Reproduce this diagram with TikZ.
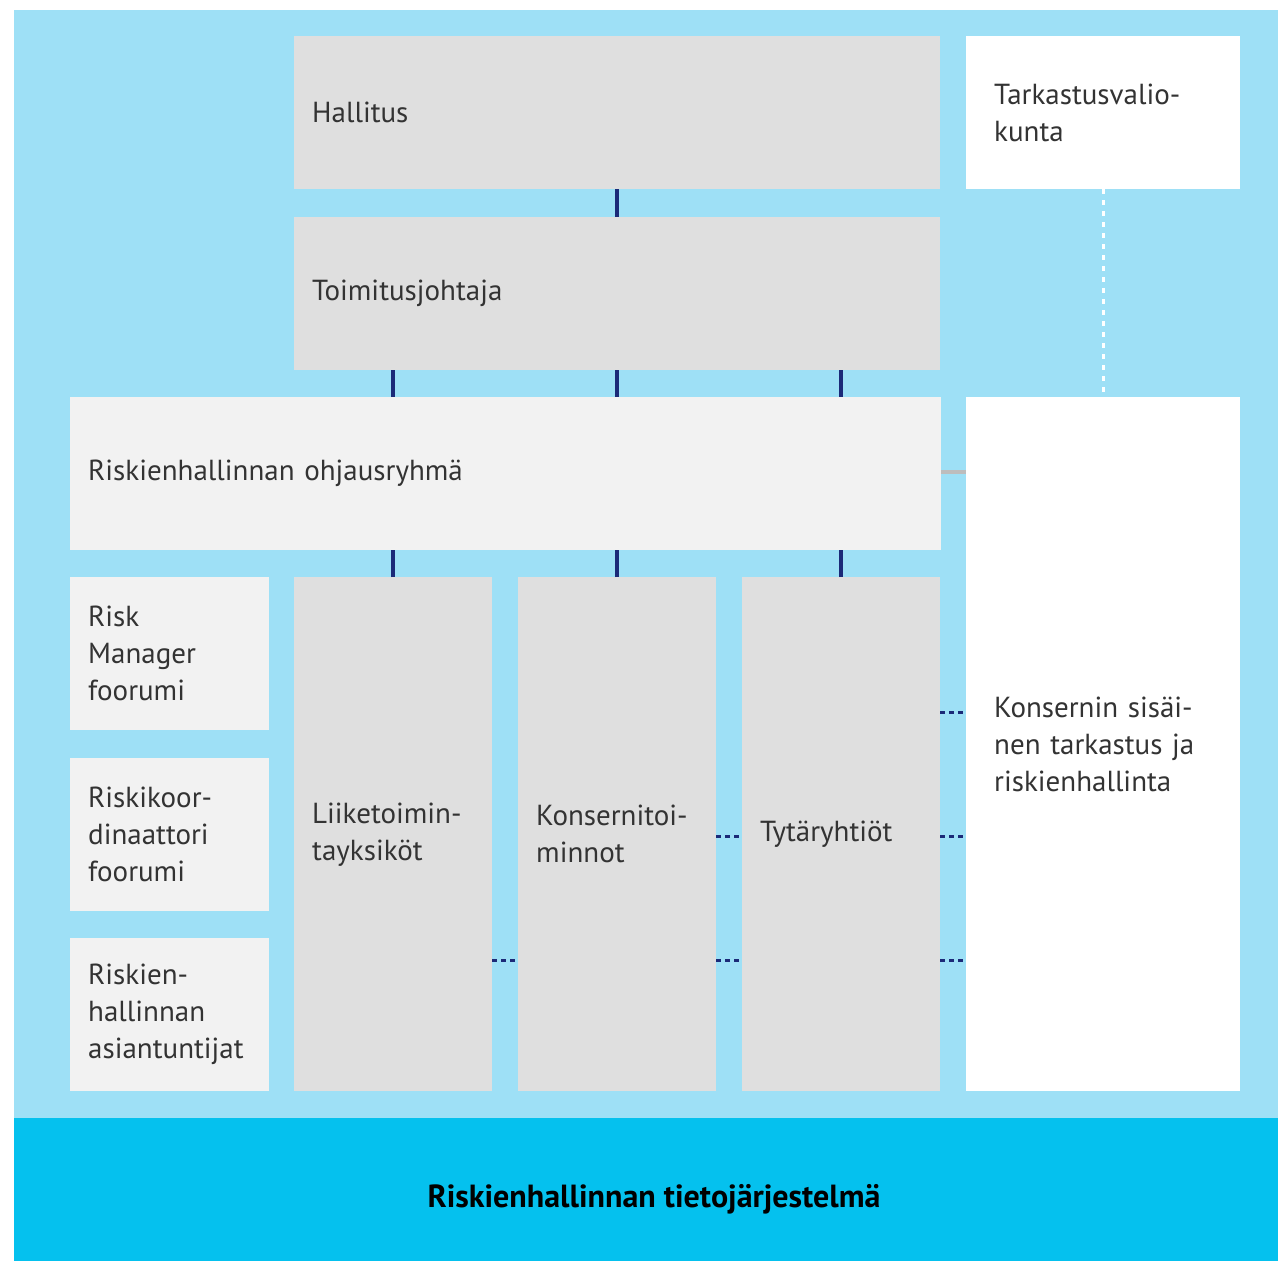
\documentclass[tikz,border=0pt]{standalone}
\usepackage{fontspec}
\setmainfont{PT Sans}
\usetikzlibrary{calc}

\definecolor{skyblue}{HTML}{9EE0F6}
\definecolor{bandblue}{HTML}{05C1EE}
\definecolor{boxgray}{HTML}{DFDFDF}
\definecolor{boxlight}{HTML}{F2F2F2}
\definecolor{navy}{HTML}{1B2A78}
\definecolor{linkgray}{HTML}{BDBDBD}
\definecolor{textgray}{HTML}{333333}

\tikzstyle{box}=[anchor=north west, inner xsep=18pt, inner ysep=0pt, align=left,
  text=textgray, font=\fontsize{29}{37}\selectfont]
\tikzstyle{unit box}=[box, fill=boxgray]
\tikzstyle{group box}=[box, fill=boxlight]
\tikzstyle{audit box}=[box, fill=white, inner xsep=28pt]
\tikzstyle{line box}=[minimum width=646pt, text width=610pt, minimum height=153pt]
\tikzstyle{forum box}=[minimum width=199pt, text width=163pt, minimum height=153pt]
\tikzstyle{column box}=[minimum width=198pt, text width=162pt, minimum height=514pt]
\tikzstyle{report}=[navy, line width=4pt]
\tikzstyle{info}=[navy, line width=3pt, dash pattern=on 5pt off 4pt]
\tikzstyle{audit}=[white, line width=3pt, dash pattern=on 5pt off 6pt]

\begin{document}
\begin{tikzpicture}[x=1pt, y=-1pt]
  \useasboundingbox (0,0) rectangle (1278,1261);

  % Background and information system band
  \fill[skyblue] (14,10) rectangle (1278,1118);
  \fill[bandblue] (14,1118) rectangle (1278,1261);
  \node[font=\fontsize{32}{37}\selectfont\bfseries, text=black] (system) at (654,1199)
    {Riskienhallinnan tietojärjestelmä};

  % Draw the top boxes
  \node[unit box, line box] (hallitus) at (294,36) {Hallitus};
  \node[unit box, line box] (toimitus) at (294,217) {Toimitusjohtaja};
  \node[audit box, minimum width=274pt, text width=218pt, minimum height=153pt]
    (valiokunta) at (966,36) {Tarkastusvalio-\\kunta};

  % Steering group across the width
  \node[group box, minimum width=871pt, text width=835pt, minimum height=153pt]
    (ohjaus) at (70,397) {Riskienhallinnan ohjausryhmä};
  \node[audit box, minimum width=274pt, text width=218pt, minimum height=694pt]
    (sisainen) at (966,397) {Konsernin sisäi-\\nen tarkastus ja\\riskienhallinta};

  % Draw the forums on the left
  \node[group box, forum box] (forum-1) at (70,577) {Risk\\Manager\\foorumi};
  \node[group box, forum box] (forum-2) at (70,758) {Riskikoor-\\dinaattori\\foorumi};
  \node[group box, forum box] (forum-3) at (70,938) {Riskien-\\hallinnan\\asiantuntijat};

  % Draw the business columns
  \node[unit box, column box] (liike) at (294,577) {Liiketoimin-\\tayksiköt};
  \node[unit box, column box] (konserni) at (518,577) {Konsernitoi-\\minnot};
  \node[unit box, column box] (tytar) at (742,577) {Tytäryhtiöt};

  % Reporting lines
  \draw[report] (hallitus.south) -- (toimitus.north);
  \foreach \col in {liike,konserni,tytar} {
    \draw[report] (\col.north) -- (\col.north |- ohjaus.south);
    \draw[report] (\col.north |- toimitus.south) -- (\col.north |- ohjaus.north);
  }
  \draw[linkgray, line width=4pt] (ohjaus.east) ++(0,-2) -- ($(sisainen.west |- ohjaus.east)+(0,-2)$);
  \draw[audit] (valiokunta.south) -- (sisainen.north);

  % Information flow between the columns
  \draw[info] ([yshift=-2]konserni.east) -- ([yshift=-2]tytar.west);
  \draw[info] ([yshift=-2]tytar.east) -- ([yshift=-2]tytar.east -| sisainen.west);
  \draw[info] ([yshift=122]tytar.east) -- ([yshift=122]tytar.east -| sisainen.west);
  \draw[info] ([yshift=-126]liike.east) -- ([yshift=-126]konserni.west);
  \draw[info] ([yshift=-126]konserni.east) -- ([yshift=-126]tytar.west);
  \draw[info] ([yshift=-126]tytar.east) -- ([yshift=-126]tytar.east -| sisainen.west);
\end{tikzpicture}
\end{document}
